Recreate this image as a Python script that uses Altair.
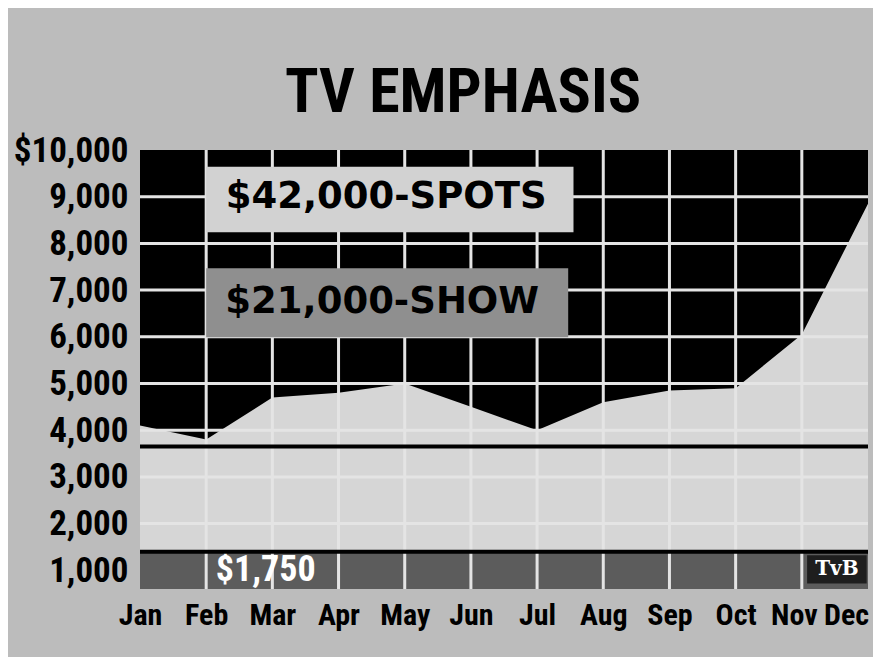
import altair as alt
import pandas as pd

# ---- data ----
months = ["Jan", "Feb", "Mar", "Apr", "May", "Jun", "Jul", "Aug", "Sep", "Oct", "Nov", "Dec"]
spending = [4100, 3800, 4700, 4800, 5000, 4500, 4000, 4600, 4850, 4900, 6050, 8850]
y_ticks = [1000, 2000, 3000, 4000, 5000, 6000, 7000, 8000, 9000, 10000]
grid_values = [1000, 2000, 3000, 4000, 5000, 6000, 7000, 8000, 9000]
spot_average = 3650
band_top = 1400
band_label = "$1,750"
spots_label = "$42,000-SPOTS"
show_label = "$21,000-SHOW"
logo_label = "TvB"
chart_title = "TV EMPHASIS"

Y_MIN, Y_MAX = 600, 10000
FONT_C = "Liberation Sans Narrow, Roboto Condensed, DejaVu Sans Condensed, Liberation Sans, sans-serif"
FONT_W = "DejaVu Sans, Liberation Sans, sans-serif"

idx = list(range(len(months)))
curve = pd.DataFrame({"idx": idx, "month": months, "spending": spending,
                      "top": [Y_MAX] * len(months)})
hgrid = pd.DataFrame({"idx": [idx[0]] * len(grid_values), "idx2": [idx[-1]] * len(grid_values),
                      "spending": grid_values})
vgrid = pd.DataFrame({"idx": idx[1:-1], "spending": [Y_MIN] * (len(idx) - 2),
                      "top": [Y_MAX] * (len(idx) - 2)})
band = pd.DataFrame({"idx": [idx[0]], "idx2": [idx[-1]], "spending": [band_top], "top": [Y_MIN]})
lines = pd.DataFrame({"idx": [idx[0], idx[0]], "idx2": [idx[-1], idx[-1]],
                      "spending": [spot_average, band_top]})

# annotation boxes (data coordinates)
spots_box = pd.DataFrame({"idx": [1.0], "idx2": [6.55], "spending": [9640], "top": [8240]})
show_box = pd.DataFrame({"idx": [1.0], "idx2": [6.47], "spending": [7470], "top": [5990]})
logo_box = pd.DataFrame({"idx": [10.08], "idx2": [10.98], "spending": [1320], "top": [720]})
spots_txt = pd.DataFrame({"idx": [3.72], "spending": [8990], "t": [spots_label]})
show_txt = pd.DataFrame({"idx": [3.66], "spending": [6740], "t": [show_label]})
band_txt = pd.DataFrame({"idx": [1.9], "spending": [1000], "t": [band_label]})
logo_txt = pd.DataFrame({"idx": [10.53], "spending": [1020], "t": [logo_label]})

xscale = alt.Scale(domain=[0, 11], nice=False, zero=False)
yscale = alt.Scale(domain=[Y_MIN, Y_MAX], nice=False, zero=False)

month_expr = "[" + ",".join(f"'{m}'" for m in months) + "][datum.value]"
xaxis = alt.Axis(values=idx, labelExpr=month_expr, domain=False, ticks=False, grid=False,
                 labelFont=FONT_C, labelFontSize=30, labelFontWeight="bold", labelColor="black",
                 labelPadding=11, labelFlush=False,
                 labelOffset={"expr": "datum.value == 11 ? -22 : (datum.value == 10 ? -8 : 0)"},
                 labelOverlap=False, title=None)
yaxis = alt.Axis(values=y_ticks,
                 labelExpr="datum.value == 10000 ? '$10,000' : format(datum.value, ',')",
                 domain=False, ticks=False, grid=False, labelFont=FONT_C, labelFontSize=35,
                 labelFontWeight="bold", labelColor="black", labelPadding=12, title=None)

X = alt.X("idx:Q", scale=xscale, axis=xaxis)
Y = alt.Y("spending:Q", scale=yscale, axis=yaxis)

area = alt.Chart(curve).mark_area(color="black", interpolate="linear").encode(x=X, y=Y, y2="top:Q")

hg = alt.Chart(hgrid).mark_rule(color="#e4e4e4", strokeWidth=3).encode(x=X, x2="idx2:Q", y=Y)

bandr = alt.Chart(band).mark_rect(color="#5c5c5c").encode(x=X, x2="idx2:Q", y=Y, y2="top:Q")

vg = alt.Chart(vgrid).mark_rule(color="#e4e4e4", strokeWidth=3).encode(x=X, y=Y, y2="top:Q")

black_lines = alt.Chart(lines).mark_rule(color="black", strokeWidth=4).encode(x=X, x2="idx2:Q", y=Y)


def box(df, color):
    return alt.Chart(df).mark_rect(color=color).encode(x=X, x2="idx2:Q", y=Y, y2="top:Q")


def label(df, size, color, font):
    return alt.Chart(df).mark_text(fontSize=size, fontWeight="bold", color=color, font=font,
                                   align="center", baseline="middle").encode(x=X, y=Y, text="t:N")


chart = alt.layer(
    area, hg, bandr, vg,
    box(spots_box, "#d2d2d2"), box(show_box, "#8f8f8f"),
    label(spots_txt, 37, "black", FONT_W), label(show_txt, 37, "black", FONT_W),
    label(band_txt, 36, "white", FONT_C),
    box(logo_box, "#1e1e1e"), label(logo_txt, 20, "white", "DejaVu Serif, serif"),
    black_lines,
).properties(
    width=728, height=439,
    title=alt.TitleParams(chart_title, font=FONT_C, fontSize=62, fontWeight="bold", color="black",
                          anchor="middle", dx=-41, offset=8),
    autosize=alt.AutoSizeParams(type="none"),
    padding={"left": 132, "top": 142, "right": 5, "bottom": 68},
    background="#bcbcbc",
).configure_view(stroke=None, fill="#d6d6d6")

chart.save("out.html", embed_options={"renderer": "svg", "actions": False})
